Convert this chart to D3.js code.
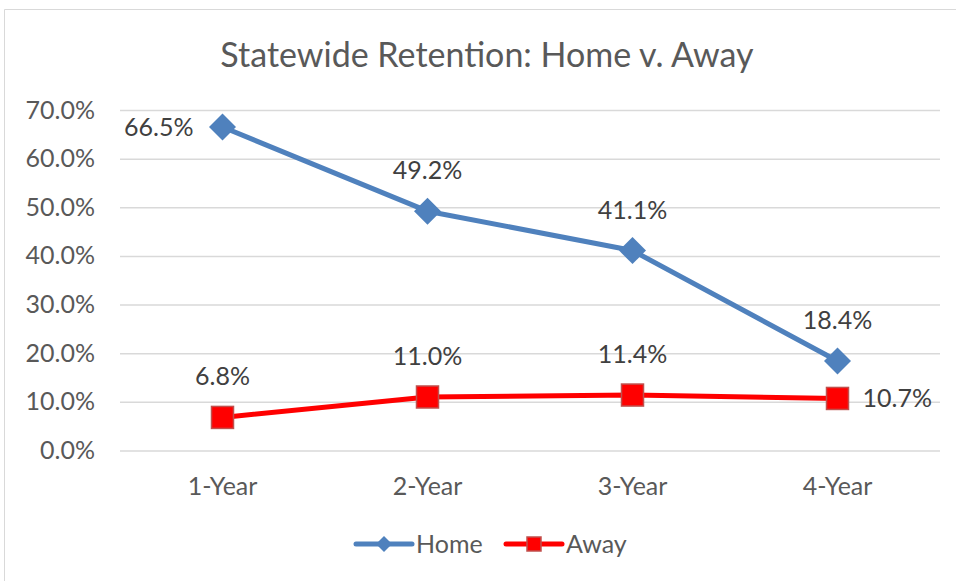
<!DOCTYPE html>
<html>
<head>
<meta charset="utf-8">
<script src="https://cdn.jsdelivr.net/npm/d3@7"></script>
<style>
  body { margin: 0; background: #fff; }
  text { font-family: Lato, "Open Sans", sans-serif; }
</style>
</head>
<body>
<svg></svg>
<script>
const w = 956
const h = 581

// data
const categories = ['1-Year', '2-Year', '3-Year', '4-Year']
const homeValues = [66.5, 49.2, 41.1, 18.4]
const awayValues = [6.8, 11.0, 11.4, 10.7]
const yTicks = [0, 10, 20, 30, 40, 50, 60, 70]

const series = [
  { name: 'Home', values: homeValues, color: '#4f81bd', marker: 'diamond' },
  { name: 'Away', values: awayValues, color: '#ff0000', marker: 'square' }
]

const svg = d3.select('svg')
  .attr('width', w)
  .attr('height', h)
  .style('display', 'block');

// chart border: only top and left edges are inside the picture
svg.append('path')
  .attr('d', `M4.5,${h}V9.5H${w}`)
  .attr('fill', 'none')
  .attr('stroke', '#d9d9d9');

svg.append('text')
  .attr('x', 487).attr('y', 67)
  .attr('text-anchor', 'middle')
  .attr('font-size', 34)
  .attr('fill', '#595959')
  .text('Statewide Retention: Home v. Away');

const margin = { top: 110, left: 120 }
const innerWidth = 820
const innerHeight = 450.5 - margin.top

const g = svg.append('g')
  .attr('transform', `translate(${margin.left}, ${margin.top})`);

const xScale = d3.scaleBand()
  .domain(categories)
  .range([0, innerWidth])

const yScale = d3.scaleLinear()
  .domain([0, 70])
  .range([innerHeight, 0])

const xCenter = d => xScale(d) + xScale.bandwidth() / 2

// y axis / gridlines
const yAxisG = g.append('g')
  .call(d3.axisLeft(yScale)
    .tickValues(yTicks)
    .tickSize(-innerWidth)
    .tickPadding(25)
    .tickFormat(d => d.toFixed(1) + '%'))
yAxisG.select('.domain').remove()
yAxisG.selectAll('line').attr('stroke', '#d9d9d9').attr('stroke-width', 1.5)
yAxisG.selectAll('text')
  .attr('font-size', 25)
  .attr('fill', '#595959')
  .attr('font-family', 'Lato, sans-serif')

// x axis
const xAxisG = g.append('g')
  .attr('transform', `translate(0, ${innerHeight})`)
  .call(d3.axisBottom(xScale).tickSize(0).tickPadding(27))
xAxisG.select('.domain').remove()
xAxisG.selectAll('text')
  .attr('font-size', 25)
  .attr('fill', '#595959')
  .attr('font-family', 'Lato, sans-serif')

const diamond = s => `M0,${-s}L${s},0L0,${s}L${-s},0Z`

series.forEach(s => {
  const pts = s.values.map((v, i) => ({ cat: categories[i], v }))
  const line = d3.line()
    .x(d => xCenter(d.cat))
    .y(d => yScale(d.v))
  g.append('path')
    .attr('d', line(pts))
    .attr('fill', 'none')
    .attr('stroke', s.color)
    .attr('stroke-width', 5)
    .attr('stroke-linejoin', 'round')

  if (s.marker === 'diamond') {
    g.selectAll(null).data(pts).enter().append('path')
      .attr('transform', d => `translate(${xCenter(d.cat)}, ${yScale(d.v)})`)
      .attr('d', diamond(13.5))
      .attr('fill', s.color)
  } else {
    g.selectAll(null).data(pts).enter().append('rect')
      .attr('x', d => xCenter(d.cat) - 11)
      .attr('y', d => yScale(d.v) - 11)
      .attr('width', 22).attr('height', 22)
      .attr('fill', s.color)
      .attr('stroke', '#c0504d')
      .attr('stroke-width', 1.5)
  }

  // data labels
  const side = i => (s.name === 'Home' && i === 0) ? 'left'
    : (s.name === 'Away' && i === 3) ? 'right' : 'top'
  g.selectAll(null).data(pts).enter().append('text')
    .attr('x', (d, i) => side(i) === 'left' ? xCenter(d.cat) - 29
      : side(i) === 'right' ? xCenter(d.cat) + 25 : xCenter(d.cat))
    .attr('y', (d, i) => side(i) === 'top' ? yScale(d.v) - 32 : yScale(d.v) + 9)
    .attr('text-anchor', (d, i) => side(i) === 'left' ? 'end'
      : side(i) === 'right' ? 'start' : 'middle')
    .attr('font-size', 25)
    .attr('fill', '#404040')
    .text(d => d.v.toFixed(1) + '%')
})

// legend
const legend = svg.append('g').attr('transform', 'translate(0, 544)')
const legendItems = [
  { s: series[0], x: 356 },
  { s: series[1], x: 506 }
]
legendItems.forEach(({ s, x }) => {
  legend.append('line')
    .attr('x1', x).attr('x2', x + 56)
    .attr('stroke', s.color)
    .attr('stroke-width', 5)
    .attr('stroke-linecap', 'round')
  if (s.marker === 'diamond') {
    legend.append('path')
      .attr('transform', `translate(${x + 28}, 0)`)
      .attr('d', diamond(8))
      .attr('fill', s.color)
  } else {
    legend.append('rect')
      .attr('x', x + 21).attr('y', -7)
      .attr('width', 14).attr('height', 14)
      .attr('fill', s.color)
      .attr('stroke', '#c0504d')
      .attr('stroke-width', 1.5)
  }
  legend.append('text')
    .attr('x', x + 60).attr('y', 9)
    .attr('font-size', 25)
    .attr('fill', '#595959')
    .text(s.name)
})
</script>
</body>
</html>
